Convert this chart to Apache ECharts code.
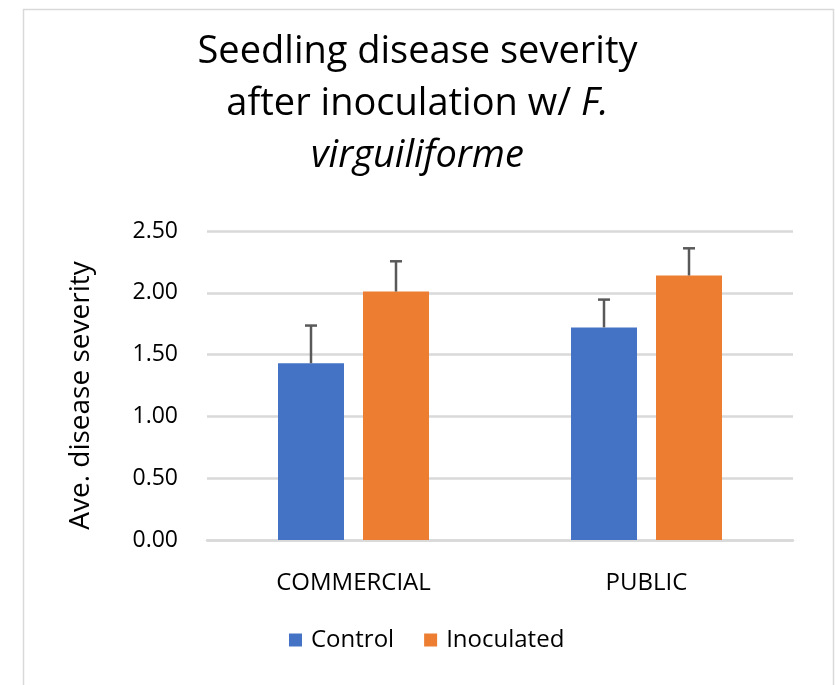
<!DOCTYPE html>
<html>
<head>
<meta charset="utf-8">
<script src="https://cdn.jsdelivr.net/npm/echarts@6/dist/echarts.min.js"></script>
<style>
html,body{margin:0;padding:0;background:#fff;}
#c{width:835px;height:685px;}
</style>
</head>
<body>
<div id="c"></div>
<script>
const categories = ['COMMERCIAL', 'PUBLIC'];
const seriesNames = ['Control', 'Inoculated'];
const controlValues = [1.43, 1.72];
const inoculatedValues = [2.01, 2.14];
const controlErrTop = [1.735, 1.945];
const inoculatedErrTop = [2.255, 2.36];
const yTicks = [0, 0.5, 1.0, 1.5, 2.0, 2.5];

const FONT = 'Open Sans';
const BAR_W = 66;
const GAP = 19;

function errSeries(name, tops, side) {
  const data = tops.map((t, i) => [i, [controlValues, inoculatedValues][side][i], t]);
  return {
    type: 'custom',
    name: name + ' err',
    z: 5,
    silent: true,
    data: data,
    encode: { x: 0, y: [1, 2] },
    renderItem: function (params, api) {
      const ci = api.value(0);
      const base = api.coord([ci, api.value(1)]);
      const top = api.coord([ci, api.value(2)]);
      const off = (side === 0 ? -1 : 1) * (BAR_W + GAP) / 2;
      const x = base[0] + off;
      const style = { stroke: '#595959', lineWidth: 2.5 };
      return {
        type: 'group',
        children: [
          { type: 'line', shape: { x1: x, y1: base[1], x2: x, y2: top[1] }, style: style },
          { type: 'line', shape: { x1: x - 6, y1: top[1], x2: x + 6, y2: top[1] }, style: style }
        ]
      };
    }
  };
}

const chart = echarts.init(document.getElementById('c'));
chart.setOption({
  backgroundColor: '#fff',
  animation: false,
  graphic: [{
    type: 'rect', left: 21, top: 7, silent: true,
    shape: { width: 810, height: 700 },
    style: { fill: 'none', stroke: '#d9d9d9', lineWidth: 1.5 }
  }],
  title: {
    text: 'Seedling disease severity\nafter inoculation w/ {i|F.}\n{i|virguiliforme}',
    left: 'center',
    top: 21,
    textStyle: {
      fontFamily: FONT, fontSize: 38, fontWeight: 'normal', color: '#000',
      lineHeight: 52,
      rich: { i: { fontFamily: FONT, fontSize: 38, fontStyle: 'italic', color: '#000', lineHeight: 52 } }
    }
  },
  legend: {
    data: seriesNames,
    bottom: 28,
    left: 284,
    itemWidth: 13, itemHeight: 13, itemGap: 30,
    icon: 'rect',
    textStyle: { fontFamily: FONT, fontSize: 24, color: '#000', padding: [0, 0, 0, 4] }
  },
  grid: { left: 207, right: 42, top: 231, bottom: 145, containLabel: false },
  xAxis: {
    type: 'category',
    data: categories,
    axisLine: { show: true, lineStyle: { color: '#d9d9d9', width: 2.5 } },
    axisTick: { show: false },
    axisLabel: { fontFamily: FONT, fontSize: 24, color: '#000', margin: 31 }
  },
  yAxis: {
    type: 'value',
    min: 0, max: 2.5, interval: 0.5,
    name: 'Ave. disease severity',
    nameLocation: 'middle',
    nameGap: 112,
    nameTextStyle: { fontFamily: FONT, fontSize: 28, color: '#000', padding: [0, 20, 0, 0] },
    axisLine: { show: false },
    axisTick: { show: false },
    splitLine: { lineStyle: { color: '#d9d9d9', width: 2.5 } },
    axisLabel: { fontFamily: FONT, fontSize: 23, color: '#000', margin: 29,
      formatter: v => v.toFixed(2) }
  },
  series: [
    { type: 'bar', name: seriesNames[0], data: controlValues, barWidth: BAR_W, barGap: (GAP / BAR_W * 100) + '%',
      itemStyle: { color: '#4472c4' } },
    { type: 'bar', name: seriesNames[1], data: inoculatedValues, barWidth: BAR_W,
      itemStyle: { color: '#ed7d31' } },
    errSeries('Control', controlErrTop, 0),
    errSeries('Inoculated', inoculatedErrTop, 1)
  ]
});
</script>
</body>
</html>
